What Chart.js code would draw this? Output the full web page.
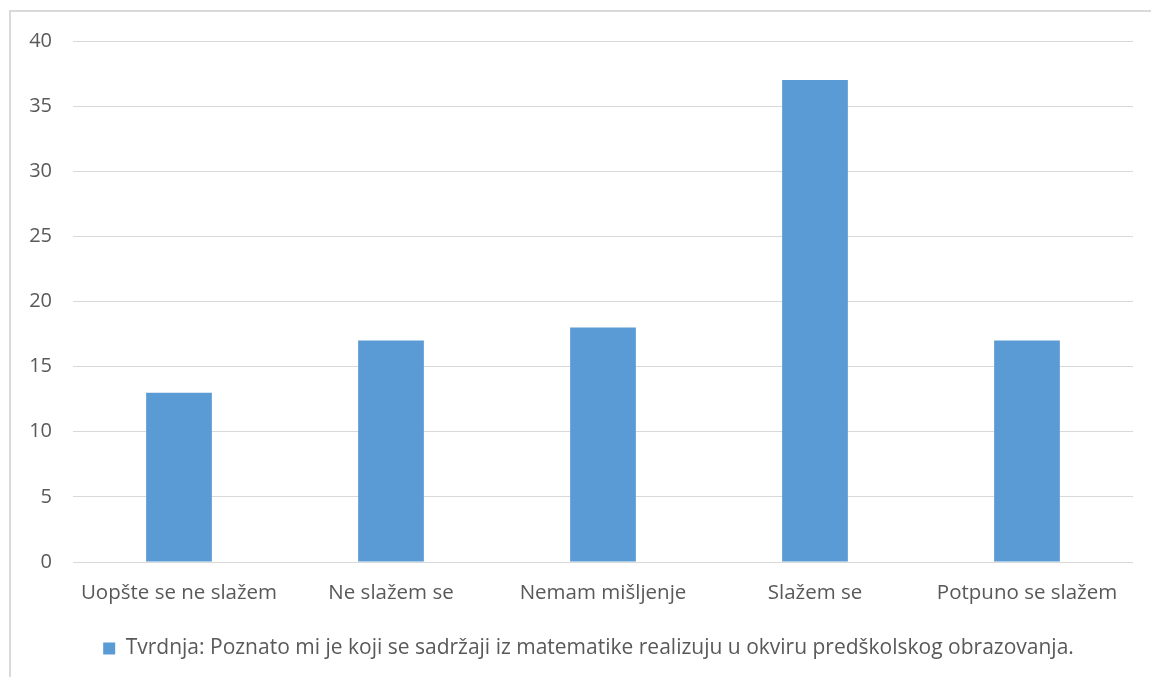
<!DOCTYPE html>
<html>
<head>
<meta charset="utf-8">
<script src="https://cdn.jsdelivr.net/npm/chart.js@4"></script>
<style>
  html, body { margin: 0; padding: 0; background: #fff; }
  #wrap { position: relative; width: 1151px; height: 677px; overflow: hidden; }
  #frame { position: absolute; left: 9px; top: 10px; width: 1200px; height: 700px;
           border-left: 2px solid #d9d9d9; border-top: 2px solid #d9d9d9; }
  canvas { position: absolute; left: 0; top: 0; }
</style>
</head>
<body>
<div id="wrap">
  <div id="frame"></div>
  <canvas id="myChart" width="1151" height="677"></canvas>
</div>
<script>
// podaci sa grafikona
const categories = ['Uopšte se ne slažem', 'Ne slažem se', 'Nemam mišljenje', 'Slažem se', 'Potpuno se slažem'];
const values = [13, 17, 18, 37, 17];
const seriesName = 'Tvrdnja: Poznato mi je koji se sadržaji iz matematike realizuju u okviru predškolskog obrazovanja.';
const yTicks = [0, 5, 10, 15, 20, 25, 30, 35, 40];

const textColor = '#595959';
const gridColor = '#d9d9d9';
const fontFamily = '"Open Sans", sans-serif';

// legenda je malo pomjerena udesno kao u originalu
const legendShift = {
    id: 'legendShift',
    afterLayout(chart) {
        chart.legend.left += 22;
        chart.legend.right += 22;
    }
};

const ctx = document.getElementById('myChart').getContext('2d');
const myChart = new Chart(ctx, {
    type: 'bar',
    data: {
        labels: categories,
        datasets: [{
            label: seriesName,
            data: values,
            backgroundColor: '#5b9bd5',
            borderWidth: 0,
            barPercentage: 0.31,
            categoryPercentage: 1
        }]
    },
    options: {
        responsive: false,
        animation: false,
        layout: { padding: { top: 41, right: 18, bottom: 8, left: 0 } },
        plugins: {
            tooltip: { enabled: false },
            legend: {
                position: 'bottom',
                labels: {
                    color: textColor,
                    font: { family: fontFamily, size: 21 },
                    boxWidth: 12,
                    boxHeight: 12,
                    padding: 10
                }
            }
        },
        scales: {
            x: {
                grid: { display: false, drawTicks: false },
                border: { display: false },
                ticks: {
                    color: textColor,
                    font: { family: fontFamily, size: 20.5 },
                    padding: 19,
                    maxRotation: 0
                },
                afterFit: function(scale) { scale.height = 66; }
            },
            y: {
                min: 0,
                max: 40,
                afterBuildTicks: function(scale) {
                    scale.ticks = yTicks.map(v => ({ value: v }));
                },
                grid: { color: gridColor, lineWidth: 1, drawTicks: false },
                border: { display: false },
                ticks: {
                    color: textColor,
                    font: { family: fontFamily, size: 20 },
                    padding: 21
                },
                afterFit: function(scale) { scale.width = 73; }
            }
        }
    },
    plugins: [legendShift]
});
</script>
</body>
</html>
